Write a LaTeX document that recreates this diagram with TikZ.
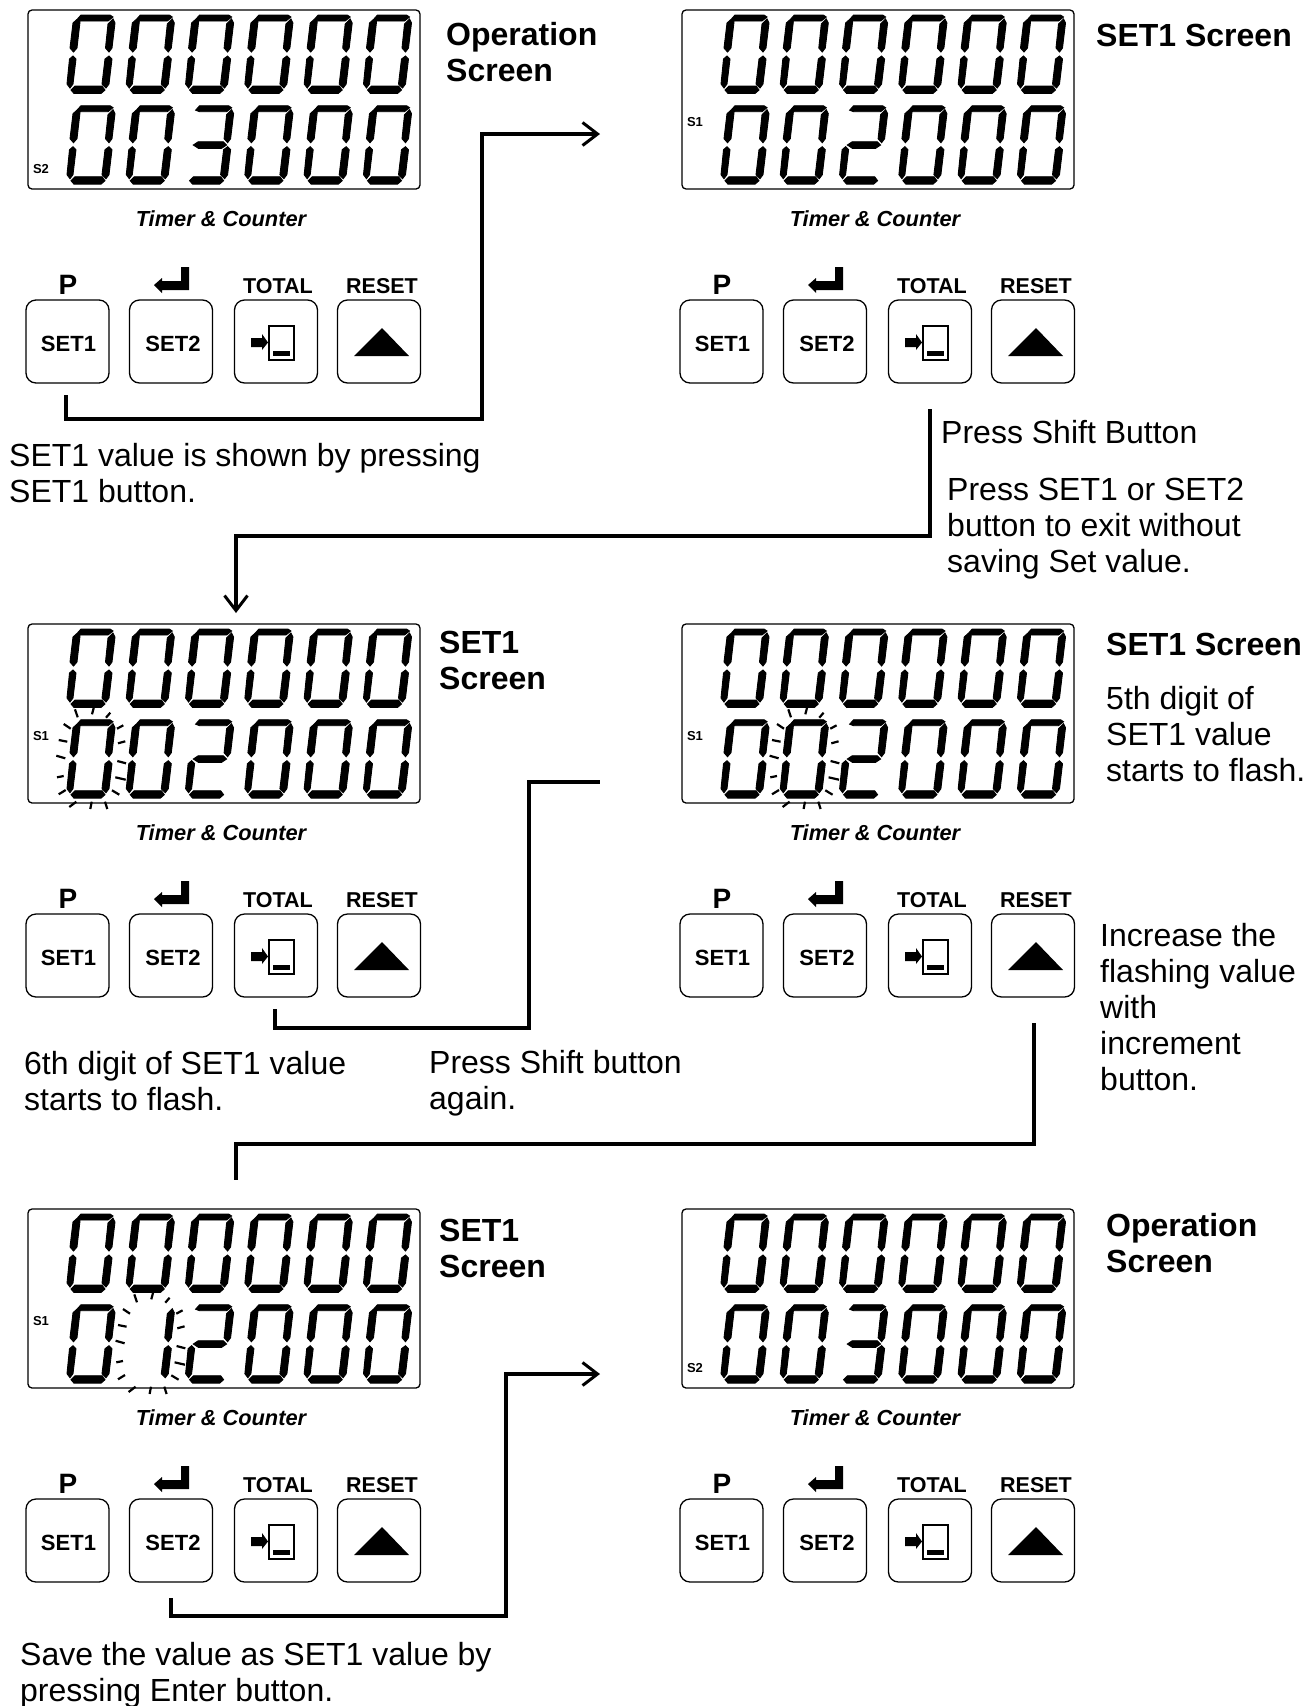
\documentclass[tikz,border=0pt]{standalone}
\usepackage{fontspec}
\setmainfont{Liberation Sans}
\usetikzlibrary{arrows.meta,positioning}

\tikzset{
    segt/.style={insert path={(17,9.5)--(21,5)--(50,5)--(53,7)--(48,11)--(21,11)--cycle}},
    segul/.style={insert path={(18,8.5)--(20,12)--(17,38)--(13.5,42)--(10,38)--(13,13)--cycle}},
    segur/.style={insert path={(53,9)--(55,13)--(52,38)--(49,42)--(45.5,38)--(48,14)--cycle}},
    segm/.style={insert path={(14.7,44.3)--(19.7,41)--(44.7,41)--(48,44.3)--(43,47.6)--(19.7,47.6)--cycle}},
    segll/.style={insert path={(13,46)--(16,49)--(13,74)--(10,78)--(7,74)--(9.5,49)--cycle}},
    seglr/.style={insert path={(49,46)--(52,49)--(49,74)--(46,78)--(42,74)--(45,49)--cycle}},
    segb/.style={insert path={(11,80)--(15,76)--(42,76)--(45,80)--(41,83.5)--(14,83.5)--cycle}},
    dig0/.style={segt,segul,segur,segll,seglr,segb},
    dig1/.style={segur,seglr},
    dig2/.style={segt,segur,segm,segll,segb},
    dig3/.style={segt,segur,segm,seglr,segb},
    pics/panel/.style n args={2}{code={
        \node[lcdbox] (-lcd) at (224,99.5) {};
        \foreach \d [count=\i from 0] in {0,0,0,0,0,0}
            \filldraw[line width=0.9pt, shift={(60+59.3*\i,10)},dig\d];
        \foreach \d [count=\i from 0] in {#2}
            \filldraw[line width=0.9pt, shift={(60+59.3*\i,100.7)},dig\d];
        \node[sign] (-sign) at (41,\ifnum\pdfstrcmp{#1}{S1}=0 122\else 169\fi) {#1};
        \node[brand] (-brand) at (221,219) {Timer \& Counter};
        \node[btn] (-set1) at (67.5,341.5) {};
        \node[btn] (-set2) at (171,341.5) {};
        \node[btn] (-shift) at (276,341.5) {};
        \node[btn] (-inc) at (379,341.5) {};
        \node[btntext] (-set1text) at (68.5,344) {SET1};
        \node[btntext] (-set2text) at (173,344) {SET2};
        \node[toplabel, font=\fontsize{28}{28}\bfseries] (-p) at (68,285) {P};
        \node[toplabel] (-total) at (278,286) {TOTAL};
        \node[toplabel] (-reset) at (382,286) {RESET};
        \fill (189,267) -- (189,290) -- (162,290) -- (162,293) -- (154,285) -- (162,278)
            -- (162,281) -- (181,281) -- (181,267) -- cycle;
        \fill (251,338) -- (262,338) -- (262,334) -- (268,342.5) -- (262,350) -- (262,347) -- (251,347) -- cycle;
        \draw[line width=1.6pt] (269,326) rectangle (294,360);
        \fill (273,351) rectangle (290,356);
        \fill (354,356) -- (409,356) -- (382,328) -- cycle;
    }},
    pics/flash/.style={code={
        \foreach \xa/\ya/\xb/\yb in {15/-5.4/17.7/2.6, 33.7/-6.7/32/-0.4, 50.3/-2/46/3,
            3.7/9.3/10.7/14, -1.3/25.3/7.3/27, -3.7/41/5.3/43.6, -3/62.6/3.7/61.3, -1.3/79.6/5.7/75.3,
            57/14/63.3/10.6, 58/28.6/65.3/26.6, 57.3/46.3/66/48.6, 55.3/62.6/65.7/65, 52/75.6/59.3/80,
            9.3/92.3/16.3/87, 30.3/94.3/31.7/87, 47.3/94.3/45/87}
            \draw[line width=2.2pt] (\xa,\ya) -- (\xb,\yb);
    }}
}

\begin{document}
\begin{tikzpicture}[
    x=1pt, y=-1pt,
    lcdbox/.style={draw, line width=1.3pt, rounded corners=4pt, minimum width=392pt, minimum height=179pt, inner sep=0pt},
    btn/.style={draw, line width=1.3pt, rounded corners=10pt, minimum size=83pt, inner sep=0pt},
    btntext/.style={inner sep=0pt, font=\fontsize{22}{22}\bfseries},
    toplabel/.style={inner sep=0pt, font=\fontsize{21.5}{21.5}\bfseries},
    sign/.style={inner sep=0pt, font=\fontsize{13}{13}\bfseries},
    brand/.style={inner sep=0pt, font=\fontsize{21.8}{22}\bfseries\itshape},
    note/.style={anchor=north west, inner sep=0pt, yshift=12.5pt, align=left, font=\fontsize{32}{36}\selectfont, execute at begin node=\strut},
    head/.style={note, font=\fontsize{32}{36}\bfseries},
    wire/.style={line width=3.2pt},
    arr/.style={wire, -{Straight Barb[length=15pt,width=23pt,line width=3pt]}}
]
\useasboundingbox (0,0) rectangle (1306,1706);

\pic (op) at (0,0) {panel={S2}{0,0,3,0,0,0}};
\pic (set) at (654,0) {panel={S1}{0,0,2,0,0,0}};
\pic (six) at (0,614) {panel={S1}{0,0,2,0,0,0}};
\pic (five) at (654,614) {panel={S1}{0,0,2,0,0,0}};
\pic (inc) at (0,1199) {panel={S1}{0,1,2,0,0,0}};
\pic (done) at (654,1199) {panel={S2}{0,0,3,0,0,0}};

\pic at (60,714.7) {flash};
\pic at (773.3,714.7) {flash};
\pic at (119.3,1299.7) {flash};

% captions
\node[head] (t1) at (446,35) {Operation\\Screen};
\node[head] (t2) at (1096,33.5) {SET1 Screen};
\node[note] (t3) at (9,456) {SET1 value is shown by pressing\\SET1 button.};
\node[note] (t4) at (941,430.5) {Press Shift Button};
\node[note] (t5) at (947,490) {Press SET1 or SET2\\button to exit without\\saving Set value.};
\node[head] (t6) at (439,643) {SET1\\Screen};
\node[head] (t7) at (1106,642.5) {SET1 Screen};
\node[note] (t8) at (1106,699) {5th digit of\\SET1 value\\starts to flash.};
\node[note] (t9) at (1100,936) {Increase the\\flashing value\\with\\increment\\button.};
\node[note] (t10) at (24,1064) {6th digit of SET1 value\\starts to flash.};
\node[note] (t11) at (429,1063) {Press Shift button\\again.};
\node[head] (t12) at (439,1231) {SET1\\Screen};
\node[head] (t13) at (1106,1226) {Operation\\Screen};
\node[note] (t14) at (20,1655) {Save the value as SET1 value by\\pressing Enter button.};

% connectors
\coordinate (a1) at (66,395);
\coordinate (b1) at (482,419);
\coordinate (c1) at (600,134);
\coordinate (a2) at (930,409);
\coordinate (b2) at (236,536);
\coordinate (c2) at (236,613);
\coordinate (a3) at (275,1009);
\coordinate (b3) at (529,1028);
\coordinate (c3) at (600,782);
\coordinate (a4) at (1034,1023);
\coordinate (b4) at (236,1144);
\coordinate (c4) at (236,1180);
\coordinate (a5) at (171,1598);
\coordinate (b5) at (506,1616);
\coordinate (c5) at (600,1374);

\draw[arr] (a1) |- (b1) |- (c1);
\draw[arr] (a2) |- (b2) -- (c2);
\draw[wire] (a3) |- (b3) |- (c3);
\draw[wire] (a4) |- (b4) -- (c4);
\draw[arr] (a5) |- (b5) |- (c5);
\end{tikzpicture}
\end{document}
